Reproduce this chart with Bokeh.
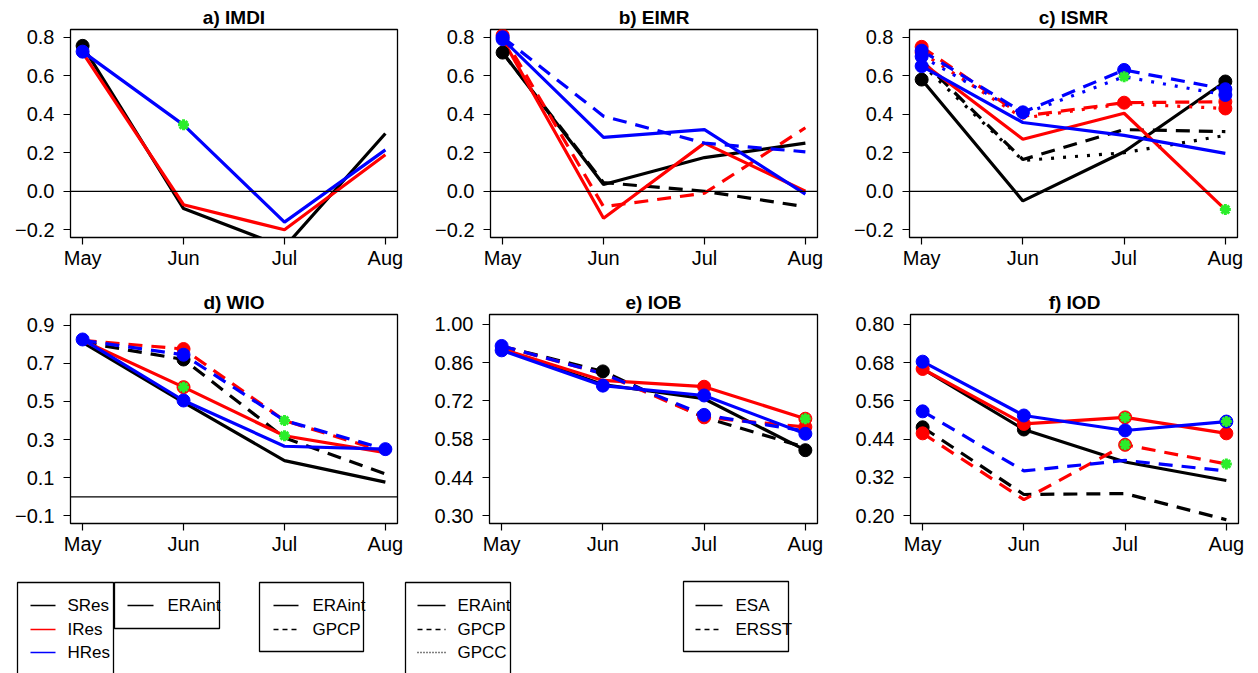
from bokeh.plotting import figure
from bokeh.models import Range1d, FixedTicker, Span
from bokeh.layouts import column, row
from bokeh.embed import file_html
from bokeh.resources import INLINE
from bokeh.core.properties import value

# ---------------- data ----------------
months = ["May", "Jun", "Jul", "Aug"]

# a) IMDI  (ERAint only)
imdi_sres_era = [0.755, -0.09, -0.29, 0.30]
imdi_ires_era = [0.72, -0.07, -0.20, 0.19]
imdi_hres_era = [0.725, 0.345, -0.16, 0.215]
imdi_marks = ["o...", "....", "o*.."]

# b) EIMR  (ERAint solid, GPCP dashed)
eimr_sres_era = [0.72, 0.035, 0.175, 0.25]
eimr_sres_gpcp = [0.72, 0.045, 0.0, -0.08]
eimr_ires_era = [0.79, -0.14, 0.25, 0.0]
eimr_ires_gpcp = [0.81, -0.08, -0.01, 0.33]
eimr_hres_era = [0.79, 0.28, 0.32, -0.015]
eimr_hres_gpcp = [0.80, 0.39, 0.25, 0.205]
eimr_marks = ["o...", "....", "....", "o...", "o...", "o..."]

# c) ISMR  (ERAint solid, GPCP dashed, GPCC dotted)
ismr_sres_era = [0.58, -0.05, 0.205, 0.57]
ismr_sres_gpcp = [0.68, 0.165, 0.32, 0.31]
ismr_sres_gpcc = [0.66, 0.16, 0.20, 0.29]
ismr_ires_era = [0.67, 0.27, 0.405, -0.095]
ismr_ires_gpcp = [0.75, 0.39, 0.46, 0.465]
ismr_ires_gpcc = [0.72, 0.38, 0.455, 0.43]
ismr_hres_era = [0.65, 0.357, 0.29, 0.197]
ismr_hres_gpcp = [0.73, 0.41, 0.63, 0.53]
ismr_hres_gpcc = [0.70, 0.40, 0.595, 0.50]
ismr_marks = ["o..o", "....", "....", "...*", "o.oo", "o..o", "o...", "oooo", "o.*o"]

# d) WIO  (ESA solid, ERSST dashed)
wio_sres_esa = [0.81, 0.495, 0.19, 0.077]
wio_sres_ersst = [0.81, 0.72, 0.31, 0.12]
wio_ires_esa = [0.82, 0.575, 0.32, 0.232]
wio_ires_ersst = [0.82, 0.775, 0.40, 0.235]
wio_hres_esa = [0.825, 0.505, 0.265, 0.25]
wio_hres_ersst = [0.82, 0.745, 0.40, 0.25]
wio_marks = ["....", ".o..", ".b*.", ".o*.", "oo..", ".o.o"]

# e) IOB
iob_sres_esa = [0.91, 0.78, 0.728, 0.54]
iob_sres_ersst = [0.92, 0.828, 0.66, 0.55]
iob_ires_esa = [0.91, 0.795, 0.772, 0.655]
iob_ires_ersst = [0.92, 0.82, 0.66, 0.625]
iob_hres_esa = [0.905, 0.776, 0.74, 0.60]
iob_hres_ersst = [0.921, 0.82, 0.669, 0.61]
iob_marks = ["...o", ".o..", "..ob", "..oo", "oooo", "o.o."]

# f) IOD
iod_sres_esa = [0.66, 0.47, 0.368, 0.31]
iod_sres_ersst = [0.477, 0.266, 0.269, 0.187]
iod_ires_esa = [0.66, 0.4875, 0.508, 0.458]
iod_ires_ersst = [0.458, 0.25, 0.422, 0.362]
iod_hres_esa = [0.683, 0.514, 0.467, 0.495]
iod_hres_ersst = [0.527, 0.34, 0.373, 0.34]
iod_marks = [".o..", "o...", "oobo", "o.b*", "ooob", "o..."]

# y ticks
ticks_top = [-0.2, 0.0, 0.2, 0.4, 0.6, 0.8]
labels_top = ["\u22120.2", "0.0", "0.2", "0.4", "0.6", "0.8"]
ticks_wio = [-0.1, 0.1, 0.3, 0.5, 0.7, 0.9]
labels_wio = ["\u22120.1", "0.1", "0.3", "0.5", "0.7", "0.9"]
ticks_iob = [0.30, 0.44, 0.58, 0.72, 0.86, 1.00]
labels_iob = ["0.30", "0.44", "0.58", "0.72", "0.86", "1.00"]
ticks_iod = [0.20, 0.32, 0.44, 0.56, 0.68, 0.80]
labels_iod = ["0.20", "0.32", "0.44", "0.56", "0.68", "0.80"]

# legends
model_names = ["SRes", "IRes", "HRes"]
legend_imdi = ["ERAint"]
legend_eimr = ["ERAint", "GPCP"]
legend_ismr = ["ERAint", "GPCP", "GPCC"]
legend_sst = ["ESA", "ERSST"]

# ---------------- style ----------------
BLACK, RED, BLUE, GREEN = "#000000", "#ff0000", "#0000ff", "#2bee2b"
DASH = {"solid": "solid", "dashed": "14 9", "dotted": "3 9"}
FONT = "Liberation Sans"
xs = list(range(len(months)))


def panel(title, series, marks, yr, yticks, ylabels, zero, w, h, bl, br, bt, bb, tstand):
    p = figure(width=w, height=h, x_range=Range1d(-0.12, 3.12), y_range=Range1d(*yr),
               output_backend="svg", toolbar_location=None, title=title,
               min_border_left=bl, min_border_right=br, min_border_top=bt, min_border_bottom=bb)
    p.title.align = "center"
    p.title.text_font = FONT
    p.title.text_font_style = "bold"
    p.title.text_font_size = "19px"
    p.title.text_color = "black"
    p.title.standoff = tstand
    p.title.offset = 0
    p.xgrid.visible = False
    p.ygrid.visible = False
    p.outline_line_color = "black"
    p.outline_line_width = 1.3
    p.outline_line_alpha = 1.0
    p.background_fill_color = "white"
    p.border_fill_color = "white"
    p.xaxis.ticker = FixedTicker(ticks=xs)
    p.xaxis.major_label_overrides = {i: m for i, m in zip(xs, months)}
    p.yaxis.ticker = FixedTicker(ticks=yticks)
    p.yaxis.major_label_overrides = {t: s for t, s in zip(yticks, ylabels)}
    for ax in (p.xaxis[0], p.yaxis[0]):
        ax.major_label_text_font = FONT
        ax.major_label_text_font_size = "20px"
        ax.major_label_text_color = "black"
        ax.major_tick_out = 7
        ax.major_tick_in = 0
        ax.minor_tick_out = 0
        ax.minor_tick_in = 0
        ax.axis_line_color = "black"
        ax.major_tick_line_color = "black"
        ax.major_tick_line_width = 1.2
    p.yaxis.major_label_standoff = 9
    p.xaxis.major_label_standoff = 2
    if zero:
        p.add_layout(Span(location=0, dimension="width", line_color="black", line_width=1.2))
    for (vals, color, style) in series:
        p.line(xs, vals, line_color=color, line_width=3.2, line_dash=DASH[style])
    for (vals, color, style), mk in zip(series, marks):
        dx = [x for x, c in zip(xs, mk) if c in "ob"]
        dy = [v for v, c in zip(vals, mk) if c in "ob"]
        if dx:
            p.scatter(dx, dy, size=13, marker="circle", fill_color=color, line_color=color)
    for (vals, color, style), mk in zip(series, marks):
        sx = [x for x, c in zip(xs, mk) if c in "*b"]
        sy = [v for v, c in zip(vals, mk) if c in "*b"]
        if sx:
            p.scatter(sx, sy, size=11, marker="asterisk", line_color=GREEN, line_width=3.0)
    return p


top_yr = (-0.24, 0.84)
pa = panel("a) IMDI",
           [(imdi_sres_era, BLACK, "solid"), (imdi_ires_era, RED, "solid"), (imdi_hres_era, BLUE, "solid")],
           imdi_marks, top_yr, ticks_top, labels_top, True, 428, 288, 70, 31, 29, 51, 3)
pb = panel("b) EIMR",
           [(eimr_sres_era, BLACK, "solid"), (eimr_sres_gpcp, BLACK, "dashed"),
            (eimr_ires_era, RED, "solid"), (eimr_ires_gpcp, RED, "dashed"),
            (eimr_hres_era, BLUE, "solid"), (eimr_hres_gpcp, BLUE, "dashed")],
           eimr_marks, top_yr, ticks_top, labels_top, True, 420, 288, 62, 31, 29, 51, 3)
pc = panel("c) ISMR",
           [(ismr_sres_era, BLACK, "solid"), (ismr_sres_gpcp, BLACK, "dashed"), (ismr_sres_gpcc, BLACK, "dotted"),
            (ismr_ires_era, RED, "solid"), (ismr_ires_gpcp, RED, "dashed"), (ismr_ires_gpcc, RED, "dotted"),
            (ismr_hres_era, BLUE, "solid"), (ismr_hres_gpcp, BLUE, "dashed"), (ismr_hres_gpcc, BLUE, "dotted")],
           ismr_marks, top_yr, ticks_top, labels_top, True, 410, 288, 61, 21, 29, 51, 3)
pd_ = panel("d) WIO",
            [(wio_sres_esa, BLACK, "solid"), (wio_sres_ersst, BLACK, "dashed"),
             (wio_ires_esa, RED, "solid"), (wio_ires_ersst, RED, "dashed"),
             (wio_hres_esa, BLUE, "solid"), (wio_hres_ersst, BLUE, "dashed")],
            wio_marks, (-0.14, 0.956), ticks_wio, labels_wio, True, 428, 280, 70, 31, 25, 45, 3)
pe = panel("e) IOB",
           [(iob_sres_esa, BLACK, "solid"), (iob_sres_ersst, BLACK, "dashed"),
            (iob_ires_esa, RED, "solid"), (iob_ires_ersst, RED, "dashed"),
            (iob_hres_esa, BLUE, "solid"), (iob_hres_ersst, BLUE, "dashed")],
           iob_marks, (0.272, 1.036), ticks_iob, labels_iob, False, 420, 280, 61, 31, 25, 45, 3)
pf = panel("f) IOD",
           [(iod_sres_esa, BLACK, "solid"), (iod_sres_ersst, BLACK, "dashed"),
            (iod_ires_esa, RED, "solid"), (iod_ires_ersst, RED, "dashed"),
            (iod_hres_esa, BLUE, "solid"), (iod_hres_ersst, BLUE, "dashed")],
           iod_marks, (0.175, 0.831), ticks_iod, labels_iod, False, 410, 280, 62, 20, 25, 45, 3)

# ---------------- legend strip (coordinates are canvas pixels) ----------------
pl = figure(width=1258, height=105, x_range=Range1d(0, 1258), y_range=Range1d(673, 568),
            output_backend="svg", toolbar_location=None, min_border=0)
pl.axis.visible = False
pl.xgrid.visible = False
pl.ygrid.visible = False
pl.outline_line_color = None

# boxes: (left, right, top, bottom)
boxes = [(17, 113, 582, 690), (114, 219, 582, 628), (259, 363, 582, 651), (405, 510, 582, 690), (683, 788, 581, 651)]
pl.quad(left=[b[0] for b in boxes], right=[b[1] for b in boxes], top=[b[2] for b in boxes],
        bottom=[b[3] for b in boxes], fill_color=None, line_color="black", line_width=1.3)

row_y = [605, 629, 652]
styles3 = ["solid", "dashed", "dotted"]
LDASH = {"solid": "solid", "dashed": "5 4", "dotted": "1 2"}


def legend_block(labels, colors, styles, lx0, lx1, tx):
    for i, lab in enumerate(labels):
        pl.line([lx0, lx1], [row_y[i], row_y[i]], line_color=colors[i], line_width=1.3,
                line_dash=LDASH[styles[i]])
    pl.text([tx] * len(labels), row_y[:len(labels)], labels, text_font=value(FONT),
            text_font_size="17px", text_baseline="middle", text_align="left", text_color="black")


legend_block(model_names, [BLACK, RED, BLUE], ["solid"] * 3, 30, 55, 67)
legend_block(legend_imdi, [BLACK], ["solid"], 127, 153, 167)
legend_block(legend_eimr, [BLACK, BLACK], styles3[:2], 273, 298, 312)
legend_block(legend_ismr, [BLACK] * 3, styles3, 417, 445, 457)
legend_block(legend_sst, [BLACK, BLACK], styles3[:2], 695, 722, 735)

layout = column(row(pa, pb, pc), row(pd_, pe, pf), pl)
open("out.html", "w").write(file_html(layout, INLINE))
